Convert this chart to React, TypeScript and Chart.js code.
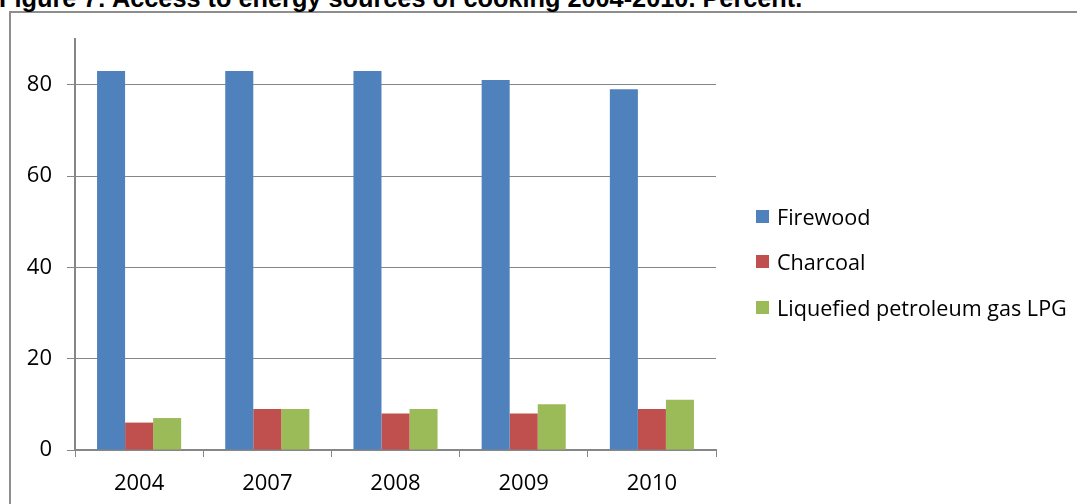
import React, { useEffect, useRef } from "react";
import { Chart, registerables } from "chart.js";

Chart.register(...registerables);

const categories = ["2004", "2007", "2008", "2009", "2010"];
const firewood = [83, 83, 83, 81, 79];
const charcoal = [6, 9, 8, 8, 9];
const lpg = [7, 9, 9, 10, 11];
const seriesNames = ["Firewood", "Charcoal", "Liquefied petroleum gas LPG"];
const seriesColors = ["#4F81BD", "#C0504D", "#9BBB59"];
const yTickValues = [0, 20, 40, 60, 80];
const titleText = "Figure 7: Access to energy sources of cooking 2004-2010. Percent.";

const FONT = "'Open Sans', sans-serif";

export default function App() {
  const ref = useRef<HTMLCanvasElement | null>(null);

  useEffect(() => {
    document.body.style.margin = "0";
    const ctx = ref.current!;
    const chart = new Chart(ctx, {
      type: "bar",
      data: {
        labels: categories,
        datasets: [firewood, charcoal, lpg].map((d, i) => ({
          label: seriesNames[i],
          data: d,
          backgroundColor: seriesColors[i],
          borderWidth: 0,
          categoryPercentage: 0.656,
          barPercentage: 1,
        })),
      },
      options: {
        animation: false,
        responsive: false,
        maintainAspectRatio: false,
        layout: { padding: { top: 39, right: 361, left: 0, bottom: 0 } },
        plugins: {
          legend: { display: false },
          title: { display: false },
          tooltip: { enabled: false },
        },
        scales: {
          x: {
            grid: {
              offset: true,
              drawOnChartArea: false,
              drawTicks: true,
              tickLength: 7,
              color: "#868686",
            },
            border: { color: "#868686", width: 2 },
            ticks: {
              color: "#000",
              font: { family: FONT, size: 22 },
              padding: 14,
              maxRotation: 0,
            },
            afterFit: (s: any) => {
              s.height = 54;
            },
          },
          y: {
            min: 0,
            max: 90,
            bounds: "data",
            grid: {
              color: "#868686",
              lineWidth: 1,
              tickLength: 8,
            },
            border: { color: "#868686", width: 2 },
            ticks: {
              stepSize: 20,
              color: "#000",
              font: { family: FONT, size: 22 },
              padding: 15,
            },
            afterBuildTicks: (s: any) => {
              s.ticks = yTickValues.map((v) => ({ value: v }));
            },
            afterFit: (s: any) => {
              s.width = 75;
            },
          },
        },
      },
    });
    return () => chart.destroy();
  }, []);

  return (
    <div
      style={{
        position: "fixed",
        left: 0,
        top: 0,
        width: 1077,
        height: 504,
        overflow: "hidden",
        background: "#fff",
      }}
    >
      <div
        style={{
          position: "absolute",
          left: 9,
          top: 11,
          width: 1200,
          height: 600,
          border: "2px solid #8e8e8e",
          boxSizing: "border-box",
        }}
      />
      <div
        style={{
          position: "absolute",
          left: -1,
          top: -14,
          whiteSpace: "nowrap",
          fontFamily: "'Liberation Sans', Arial, sans-serif",
          fontWeight: "bold",
          fontSize: 25.3,
          lineHeight: "25px",
          color: "#000",
        }}
      >
        {titleText}
      </div>
      <canvas
        ref={ref}
        width={1077}
        height={504}
        style={{ position: "absolute", left: 0, top: 0, width: 1077, height: 504 }}
      />
      {seriesNames.map((n, i) => (
        <div
          key={n}
          style={{
            position: "absolute",
            left: 756,
            top: 216 + i * 45.5 - 15,
            height: 30,
            display: "flex",
            alignItems: "center",
            whiteSpace: "nowrap",
            fontFamily: FONT,
            fontSize: 21.6,
            color: "#000",
          }}
        >
          <span
            style={{
              display: "inline-block",
              width: 13,
              height: 13,
              background: seriesColors[i],
              marginRight: 8,
            }}
          />
          <span>{n}</span>
        </div>
      ))}
    </div>
  );
}
